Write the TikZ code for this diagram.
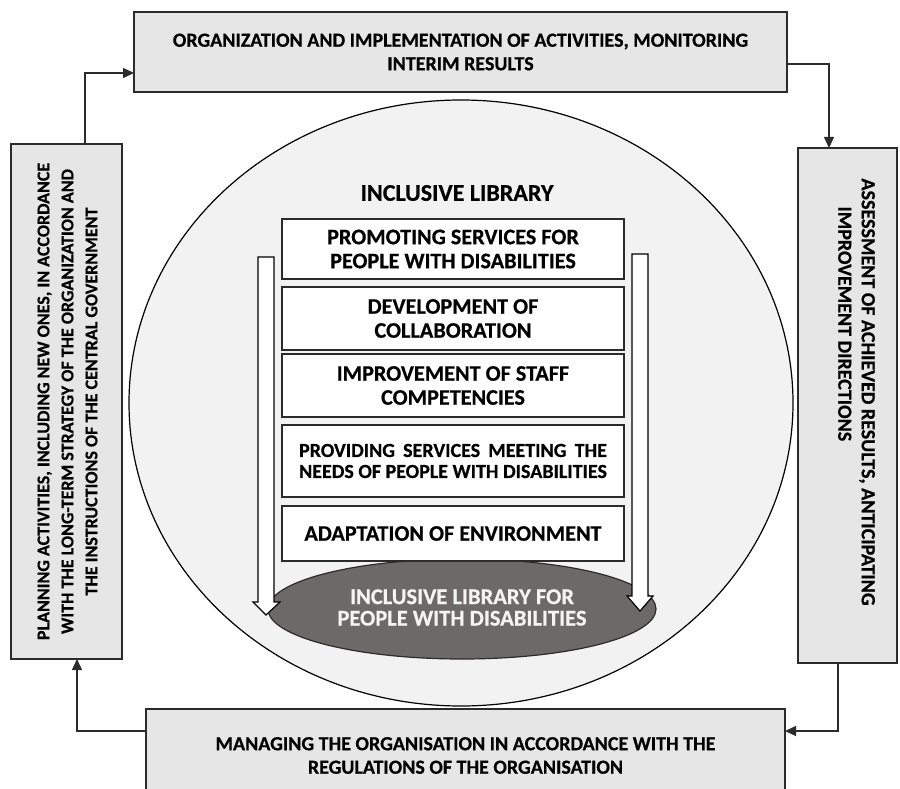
\documentclass[tikz,border=0pt]{standalone}
\usepackage{fontspec}
\setmainfont{Carlito}[BoldFeatures={FakeBold=0.5}]
\usetikzlibrary{arrows.meta}
\definecolor{outerfill}{HTML}{E6E6E6}
\definecolor{circfill}{HTML}{F2F2F2}
\definecolor{darkfill}{HTML}{6D6969}
\definecolor{edge}{HTML}{2B2B2B}
\definecolor{lighttext}{HTML}{F4F4F4}
\newlength\needwd
\begin{document}
\begin{tikzpicture}[x=1pt,y=-1pt,
  obox/.style={draw=edge, line width=1.3pt, fill=outerfill, rectangle, outer sep=0pt, inner sep=0pt},
  otext/.style={font=\bfseries\fontsize{20}{23.5}\selectfont, text=black, inner sep=0pt},
  ibox/.style={draw=edge, line width=1.6pt, fill=white, rectangle, outer sep=0pt, inner sep=0pt,
    minimum width=342pt, align=center, font=\bfseries\fontsize{22.2}{24}\selectfont},
  conn/.style={draw=edge, line width=1.3pt, -{Triangle[length=11pt,width=10pt]}},
  warrow/.style={draw=black, line width=1.2pt, fill=white, line join=miter}
]
\useasboundingbox (0,0) rectangle (900,789);
\clip (0,0) rectangle (900,789);

% outer boxes
\node[obox, minimum width=653pt, minimum height=80pt] (tb) at (460.5,52) {};
\node[otext, align=center] (tbt) at (tb.center) {ORGANIZATION AND IMPLEMENTATION OF ACTIVITIES, MONITORING\\INTERIM RESULTS};

\node[obox, minimum width=111pt, minimum height=515pt] (lb) at (66.5,401.5) {};
\node[otext, font=\bfseries\fontsize{18}{24}\selectfont, align=center, rotate=90] (lbt) at (67.5,401.5) {PLANNING ACTIVITIES, INCLUDING NEW ONES, IN ACCORDANCE\\WITH THE LONG-TERM STRATEGY OF THE ORGANIZATION AND\\THE INSTRUCTIONS OF THE CENTRAL GOVERNMENT};

\node[obox, minimum width=99pt, minimum height=515pt] (rb) at (847.5,405.5) {};
\node[otext, align=left, rotate=-90] (rbt) at (856.5,392) {ASSESSMENT OF ACHIEVED RESULTS, ANTICIPATING\\\hspace*{28pt}IMPROVEMENT DIRECTIONS};

\node[obox, minimum width=639pt, minimum height=92pt] (bb) at (465.5,755) {};
\node[otext, align=center] (bbt) at (465.5,755.5) {MANAGING THE ORGANISATION IN ACCORDANCE WITH THE\\REGULATIONS OF THE ORGANISATION};

% connectors
\draw[conn] ([xshift=74pt]lb.north west) |- ([yshift=-21pt]tb.west);
\draw[conn] ([yshift=-12pt]tb.east) -| ([xshift=31pt]rb.north west);
\draw[conn] ([xshift=40pt]rb.south west) |- ([yshift=24pt]bb.east);
\draw[conn] ([yshift=24pt]bb.west) -| ([xshift=66pt]lb.south west);

% central circle
\draw[black, line width=1.2pt, fill=circfill] (461,403) ellipse [x radius=332, y radius=303];
\node[font=\bfseries\fontsize{24}{26}\selectfont, inner sep=0pt] (title) at (457,193) {INCLUSIVE LIBRARY};

% dark ellipse
\draw[edge, line width=1.2pt, fill=darkfill] (462,609) ellipse [x radius=194, y radius=50];
\node[font=\bfseries\fontsize{22.5}{21.5}\selectfont, text=lighttext, align=center, inner sep=0pt] (goal) at (462,607.5) {INCLUSIVE LIBRARY FOR\\PEOPLE WITH DISABILITIES};

% inner boxes
\node[ibox, minimum height=60pt] (s1) at (453,249) {PROMOTING SERVICES FOR\\PEOPLE WITH DISABILITIES};
\node[ibox, minimum height=63pt] (s2) at (453,318.5) {DEVELOPMENT OF\\COLLABORATION};
\node[ibox, minimum height=63pt] (s3) at (453,385.5) {IMPROVEMENT OF STAFF\\COMPETENCIES};
\node[ibox, minimum height=72pt, font=\bfseries\fontsize{20}{21}\selectfont] (s4) at (453,461) {\settowidth{\needwd}{NEEDS OF PEOPLE WITH DISABILITIES}\makebox[\needwd][s]{PROVIDING SERVICES MEETING THE}\\NEEDS OF PEOPLE WITH DISABILITIES};
\node[ibox, minimum height=55pt] (s5) at (453,533.5) {ADAPTATION OF ENVIRONMENT};

% white arrows
\draw[warrow] (258,257) -- (258,602) -- (253,602) -- (266,615) -- (280,602) -- (274,602) -- (274,257) -- cycle;
\draw[warrow] (632,254) -- (632,596) -- (627,596) -- (640,611) -- (653,596) -- (648,596) -- (648,254) -- cycle;
\end{tikzpicture}
\end{document}
